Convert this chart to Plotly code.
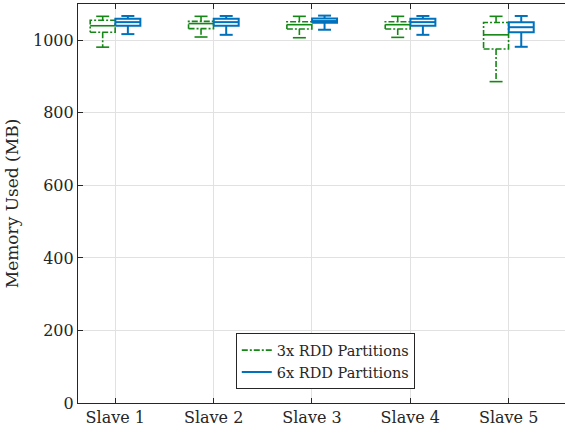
import plotly.graph_objects as go

# Memory usage per slave node, summarised as box statistics (MB)
categories = ["Slave 1", "Slave 2", "Slave 3", "Slave 4", "Slave 5"]

# 3x RDD partitions
p3_lower = [981, 1009, 1007, 1008, 886]
p3_q1 = [1022, 1032, 1031, 1031, 976]
p3_median = [1040, 1046, 1043, 1043, 1015]
p3_q3 = [1055, 1052, 1051, 1051, 1049]
p3_upper = [1066, 1066, 1066, 1066, 1066]

# 6x RDD partitions
p6_lower = [1017, 1015, 1029, 1015, 982]
p6_q1 = [1040, 1040, 1048, 1040, 1022]
p6_median = [1050, 1050, 1053, 1050, 1036]
p6_q3 = [1059, 1059, 1060, 1059, 1050]
p6_upper = [1067, 1067, 1068, 1067, 1067]

GREEN = "rgb(20,135,20)"
BLUE = "rgb(0,114,189)"
INK = "rgb(38,38,38)"
FONT = "DejaVu Serif"

OFFSET = 0.128    # horizontal shift of each series from the category centre
HALF_BOX = 0.127  # half width of a box
HALF_CAP = 0.066  # half width of a whisker cap


def box_geometry(offset, lower, q1, med, q3, upper):
    """Return (outline, median, whiskers, caps) coordinate lists for all boxes."""
    outline = ([], [])
    median = ([], [])
    whisk = ([], [])
    caps = ([], [])
    for i in range(len(categories)):
        c = i + 1 + offset
        l, r = c - HALF_BOX, c + HALF_BOX
        outline[0].extend([l, r, r, l, l, None])
        outline[1].extend([q1[i], q1[i], q3[i], q3[i], q1[i], None])
        median[0].extend([l, r, None])
        median[1].extend([med[i], med[i], None])
        whisk[0].extend([c, c, None, c, c, None])
        whisk[1].extend([q3[i], upper[i], None, q1[i], lower[i], None])
        caps[0].extend([c - HALF_CAP, c + HALF_CAP, None, c - HALF_CAP, c + HALF_CAP, None])
        caps[1].extend([upper[i], upper[i], None, lower[i], lower[i], None])
    return outline, median, whisk, caps


fig = go.Figure()

series = [
    ("3x RDD Partitions", -OFFSET, GREEN, "6px,2px,2px,2px", 1.6,
     (p3_lower, p3_q1, p3_median, p3_q3, p3_upper)),
    ("6x RDD Partitions", OFFSET, BLUE, "solid", 2.0,
     (p6_lower, p6_q1, p6_median, p6_q3, p6_upper)),
]

for name, off, color, dash, width, stats in series:
    outline, median, whisk, caps = box_geometry(off, *stats)
    fig.add_trace(go.Scatter(x=outline[0], y=outline[1], mode="lines", name=name,
                             line=dict(color=color, width=width, dash=dash),
                             legendgroup=name, showlegend=True, hoverinfo="skip"))
    fig.add_trace(go.Scatter(x=whisk[0], y=whisk[1], mode="lines",
                             line=dict(color=color, width=width, dash=dash),
                             legendgroup=name, showlegend=False, hoverinfo="skip"))
    fig.add_trace(go.Scatter(x=median[0], y=median[1], mode="lines",
                             line=dict(color=color, width=width),
                             legendgroup=name, showlegend=False, hoverinfo="skip"))
    fig.add_trace(go.Scatter(x=caps[0], y=caps[1], mode="lines",
                             line=dict(color=color, width=width),
                             legendgroup=name, showlegend=False, hoverinfo="skip"))

fig.update_layout(
    width=565, height=433,
    margin=dict(l=78, r=0, t=4, b=30),
    paper_bgcolor="white", plot_bgcolor="white",
    font=dict(family=FONT, size=16, color=INK),
    showlegend=True,
    legend=dict(
        x=0.324, y=0.175, xanchor="left", yanchor="top",
        bgcolor="white", bordercolor=INK, borderwidth=1,
        font=dict(family=FONT, size=14.5, color=INK),
        itemwidth=30, tracegroupgap=0,
    ),
    xaxis=dict(
        range=[0.621, 5.573],
        tickmode="array", tickvals=[1, 2, 3, 4, 5], ticktext=categories,
        tickfont=dict(family=FONT, size=16, color=INK),
        showgrid=True, gridcolor="rgb(225,225,225)", gridwidth=1,
        showline=True, linecolor=INK, linewidth=1.2, mirror="ticks",
        ticks="inside", ticklen=5, tickcolor=INK,
        zeroline=False,
    ),
    yaxis=dict(
        range=[0, 1100],
        tickmode="array", tickvals=[0, 200, 400, 600, 800, 1000],
        tickfont=dict(family=FONT, size=16, color=INK),
        showgrid=True, gridcolor="rgb(225,225,225)", gridwidth=1,
        showline=True, linecolor=INK, linewidth=1.2,
        ticks="inside", ticklen=5, tickcolor=INK,
        zeroline=False,
        title=dict(text="Memory Used (MB)", font=dict(family=FONT, size=17, color=INK), standoff=10),
    ),
)

fig.write_html("out.html")
